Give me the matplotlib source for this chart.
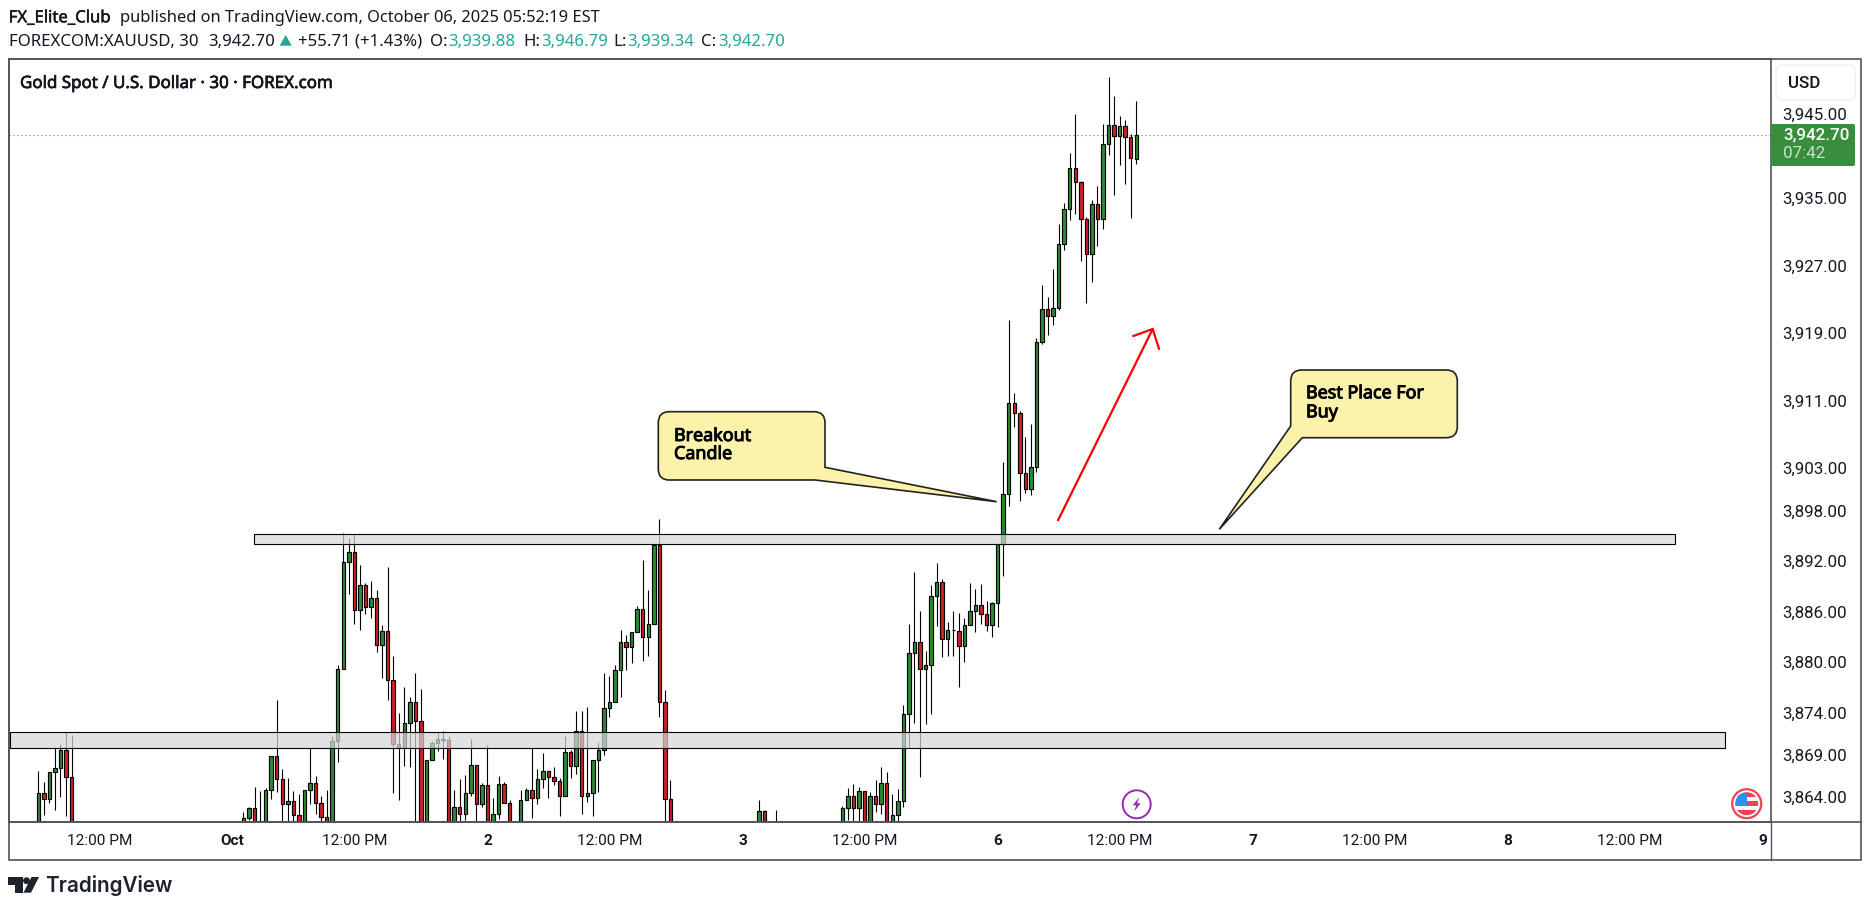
import numpy as np
import matplotlib
matplotlib.use('Agg')
import matplotlib.pyplot as plt
import matplotlib.patheffects as pe
from matplotlib.path import Path
from matplotlib.patches import PathPatch, Polygon, Circle, Rectangle, FancyBboxPatch
from matplotlib.transforms import ScaledTranslation

plt.rcParams['font.family'] = ['Roboto', 'DejaVu Sans']

nan = np.nan

# Candles, one entry per 30 min bar. 3860 = somewhere below the visible range
opens = [3860, 3864.71, 3864.00, 3867.20, 3867.67, 3869.81, 3866.61] + [nan] * 28 + [3860, nan,
         3860, 3861.75, 3862.93, 3860, 3860, 3865.07, 3869.09, 3866.37, 3863.41, 3863.76,
         3862.10, 3860, 3865.07, 3865.89, 3863.52, 3861.87, 3860, 3870.87, 3879.40, 3892.08,
         3893.27, 3886.40, 3889.36, 3886.75, 3887.82, 3882.25, 3883.91, 3878.10, 3870.52, 3870.16,
         3873.00, 3875.49, 3873.24, 3860, 3868.62, 3870.63, 3870.99, 3870.99, 3860, 3863.05,
         3862.22, 3864.71, 3868.03, 3863.41, 3865.66, 3860, 3862.22, 3865.78, 3863.52, 3860,
         3860, 3863.88, 3865.07, 3864.12, 3866.37, 3867.32, 3866.61, 3866.13, 3864.35, 3869.57,
         3867.91, 3872.06, 3864.35, 3864.71, 3868.62, 3869.81, 3874.78, 3875.49, 3879.29, 3882.60,
         3882.01, 3883.79, 3886.51, 3883.20, 3884.74, 3894.10, 3875.49, 3864.00] + [nan] * 15 + [
         3860, 3862.58, nan, 3860] + [nan] * 11 + [
         3860, 3862.93, 3864.35, 3862.93, 3864.95, 3860, 3864.35, 3863.41, 3865.89, 3860,
         3862.10, 3863.76, 3874.07, 3881.30, 3882.60, 3879.40, 3879.88, 3888.05, 3889.71, 3882.96,
         3884.03, 3883.91, 3882.13, 3884.62, 3886.28, 3886.99, 3885.92, 3884.62, 3887.22, 3894.22,
         3900.15, 3910.93, 3909.75, 3902.64, 3900.74, 3903.35, 3918.17, 3922.08, 3921.25, 3922.20,
         3929.79, 3933.93, 3938.79, 3937.13, 3932.75, 3928.60, 3934.53, 3932.75, 3941.64, 3943.89,
         3942.58, 3943.77, 3942.47, 3939.88]
closes = [3864.71, 3864.00, 3867.20, 3867.67, 3869.81, 3866.61, 3860] + [nan] * 28 + [3860, nan,
          3861.75, 3862.93, 3861.35, 3861.39, 3865.07, 3869.09, 3866.37, 3863.41, 3863.76, 3862.10,
          3860, 3865.07, 3865.89, 3863.52, 3861.87, 3860, 3870.87, 3879.40, 3892.08, 3893.27,
          3886.40, 3889.36, 3886.75, 3887.82, 3882.25, 3883.91, 3878.10, 3870.52, 3870.16, 3873.00,
          3875.49, 3873.24, 3860, 3868.62, 3870.63, 3871.11, 3871.11, 3860, 3863.05, 3862.22,
          3864.71, 3868.03, 3863.41, 3865.66, 3860, 3862.22, 3865.78, 3863.52, 3860, 3860,
          3863.88, 3865.07, 3864.12, 3866.37, 3867.32, 3866.61, 3866.13, 3864.35, 3869.57, 3867.91,
          3872.06, 3864.35, 3864.71, 3868.62, 3869.81, 3874.78, 3875.49, 3879.29, 3882.60, 3882.01,
          3883.79, 3886.51, 3883.20, 3884.74, 3894.10, 3875.49, 3864.00, 3860] + [nan] * 15 + [
          3862.58, 3860, nan, 3860] + [nan] * 11 + [
          3862.93, 3864.35, 3862.93, 3864.95, 3860, 3864.35, 3863.41, 3865.89, 3860, 3862.10,
          3863.76, 3874.07, 3881.30, 3882.60, 3879.40, 3879.88, 3888.05, 3889.71, 3882.96, 3884.03,
          3884.03, 3882.13, 3884.62, 3886.28, 3886.99, 3885.92, 3884.62, 3887.22, 3894.22, 3900.15,
          3910.93, 3909.75, 3902.64, 3900.74, 3903.35, 3918.17, 3922.08, 3921.25, 3922.20, 3929.79,
          3933.93, 3938.79, 3937.13, 3932.75, 3928.60, 3934.53, 3932.75, 3941.64, 3943.89, 3942.58,
          3943.77, 3942.47, 3939.98, 3942.70]
highs = [3867.36, 3866.01, 3867.20, 3870.16, 3870.56, 3871.94, 3871.58] + [nan] * 28 + [3861.39, nan,
         3862.50, 3863.09, 3865.46, 3864.99, 3865.30, 3869.09, 3875.77, 3867.55, 3866.49, 3864.95,
         3864.63, 3865.07, 3870.04, 3866.72, 3864.35, 3865.07, 3871.46, 3879.92, 3895.52, 3895.00,
         3895.40, 3891.73, 3889.67, 3889.87, 3888.77, 3884.62, 3891.49, 3880.94, 3874.19, 3877.27,
         3876.09, 3878.93, 3877.03, 3868.62, 3870.87, 3871.94, 3872.06, 3871.46, 3865.07, 3866.37,
         3866.84, 3871.11, 3868.03, 3865.89, 3870.40, 3864.12, 3866.72, 3866.00, 3863.88, 3861.39,
         3865.07, 3865.30, 3870.16, 3867.55, 3869.45, 3867.32, 3867.79, 3866.49, 3871.46, 3869.81,
         3874.43, 3874.43, 3874.90, 3868.62, 3870.75, 3878.93, 3878.57, 3879.88, 3884.03, 3883.43,
         3883.79, 3886.87, 3892.32, 3888.77, 3894.10, 3897.18, 3876.92, 3866.25] + [nan] * 15 + [
         3863.88, 3862.70, nan, 3862.70] + [nan] * 11 + [
         3863.17, 3865.30, 3865.78, 3865.42, 3864.95, 3864.83, 3866.25, 3867.79, 3867.20, 3864.59,
         3865.18, 3875.14, 3884.74, 3890.90, 3886.28, 3881.54, 3889.36, 3891.96, 3890.07, 3884.97,
         3886.28, 3886.04, 3885.45, 3889.59, 3888.88, 3889.48, 3887.46, 3887.34, 3894.22, 3903.94,
         3920.78, 3912.12, 3909.99, 3906.91, 3908.45, 3918.65, 3924.97, 3923.51, 3926.82, 3932.20,
         3934.64, 3940.57, 3945.19, 3937.25, 3932.99, 3935.00, 3936.66, 3944.01, 3949.58, 3947.32,
         3944.95, 3944.48, 3942.82, 3946.79]
lows = [3860, 3862.18, 3863.60, 3862.73, 3864.31, 3862.06, 3860] + [nan] * 28 + [3860, nan,
        3860, 3861.55, 3860, 3860, 3860, 3864.08, 3864.87, 3860, 3860, 3860,
        3860, 3860, 3863.49, 3862.30, 3860, 3860, 3860, 3868.46, 3879.40, 3888.33,
        3884.82, 3884.10, 3885.92, 3885.53, 3881.50, 3878.42, 3875.81, 3864.79, 3863.96, 3867.99,
        3867.87, 3860, 3860, 3860, 3868.62, 3869.73, 3868.82, 3860, 3860, 3860,
        3861.51, 3864.35, 3860, 3863.05, 3860, 3860, 3861.63, 3863.52, 3860, 3860,
        3860, 3863.88, 3861.79, 3863.41, 3865.30, 3864.20, 3865.66, 3862.06, 3864.35, 3866.49,
        3866.96, 3862.22, 3863.64, 3862.06, 3864.83, 3869.21, 3873.72, 3875.49, 3876.09, 3879.29,
        3880.11, 3883.79, 3880.43, 3881.02, 3884.74, 3873.79, 3860, 3860] + [nan] * 15 + [
        3860, 3860, nan, 3860] + [nan] * 11 + [
        3860, 3861.51, 3860, 3860, 3860, 3860, 3862.46, 3862.22, 3860, 3860,
        3860, 3863.13, 3870.24, 3873.08, 3866.61, 3872.97, 3874.15, 3884.50, 3880.90, 3881.02,
        3881.02, 3877.35, 3880.31, 3884.62, 3883.87, 3884.82, 3883.99, 3883.27, 3884.46, 3890.51,
        3898.81, 3908.17, 3899.40, 3900.35, 3900.11, 3902.84, 3917.94, 3919.04, 3920.23, 3921.97,
        3929.11, 3932.71, 3933.42, 3927.85, 3922.87, 3925.36, 3929.63, 3931.64, 3940.41, 3935.67,
        3939.23, 3936.98, 3932.95, 3939.34]

# drawn zones: left bar, right bar, top price, bottom price
zone_left = [38.95, -5.05]
zone_right = [295.2, 304.2]
zone_top = [3895.40, 3871.94]
zone_bottom = [3894.22, 3870.04]

last_price = 3942.70
price_ticks = [3945, 3935, 3927, 3919, 3911, 3903, 3898, 3892, 3886, 3880, 3874, 3869, 3864]
time_ticks = [11, 35, 57, 81, 103, 127, 149, 173, 195, 219, 241, 265, 287, 311]
time_labels = ['12:00 PM', 'Oct', '12:00 PM', '2', '12:00 PM', '3', '12:00 PM', '6',
               '12:00 PM', '7', '12:00 PM', '8', '12:00 PM', '9']

GREEN = '#2e8b35'
RED = '#d32020'
TEAL = '#26a69a'
INK = '#131722'
FRAME = '#50535e'
W, H = 1869, 910
L, R, T, B = 8.5, 1770.7, 59, 822.3

fig = plt.figure(figsize=(W / 100, H / 100), dpi=100, facecolor='white')
ax = fig.add_axes([L / W, (H - B) / H, (R - L) / W, (B - T) / H])
ax.set_xlim(-5.37, 312.41)
ax.set_ylim(3861.27, 3951.74)

o = np.array(opens, dtype=float)
h = np.array(highs, dtype=float)
l = np.array(lows, dtype=float)
c = np.array(closes, dtype=float)
x = np.arange(len(o))
keep = ~np.isnan(o)
colors = [GREEN if up else RED for up in (c[keep] >= o[keep])]

ax.axhline(last_price, color='#4f8f55', lw=0.8, ls=(0, (1, 2.6)), zorder=1)
ax.vlines(x[keep], l[keep], h[keep], color='black', lw=0.8, zorder=2)
ax.bar(x[keep], np.abs(c[keep] - o[keep]), bottom=np.minimum(o[keep], c[keep]), width=0.62,
       color=colors, edgecolor='black', linewidth=0.85, zorder=2.5)

for i in range(len(zone_left)):
    ax.add_patch(Rectangle((zone_left[i], zone_bottom[i]), zone_right[i] - zone_left[i],
                           zone_top[i] - zone_bottom[i], facecolor=(216 / 255, 216 / 255, 216 / 255, 0.72),
                           edgecolor='black', linewidth=0.8, zorder=3))

ax.yaxis.tick_right()
ax.set_yticks(price_ticks)
ax.set_yticklabels([f'{v:,.2f}' for v in price_ticks], fontsize=12.2, color=INK)
ax.set_xticks(time_ticks)
ax.set_xticklabels(time_labels, fontsize=11.1, color=INK)
for lab in ax.get_xticklabels():
    if 'PM' not in lab.get_text():
        lab.set_fontweight('bold')
ax.tick_params(axis='both', length=0)
ax.tick_params(axis='y', pad=8.4)
ax.tick_params(axis='x', pad=8.5)
# labels sit about 2 px above their price in the reference
up_shift = ScaledTranslation(0, 2 / 100, fig.dpi_scale_trans)
for lab in ax.get_yticklabels():
    lab.set_transform(lab.get_transform() + up_shift)
for s in ax.spines.values():
    s.set_color(FRAME)
    s.set_linewidth(1.2)

# overlay in image pixels for chrome, callouts and icons
ov = fig.add_axes([0, 0, 1, 1], facecolor='none')
ov.set_xlim(0, W)
ov.set_ylim(H, 0)
ov.axis('off')

HEAD = ['Noto Sans', 'DejaVu Sans']


def heavier(width):
    # Noto Sans only comes in one weight here, so thicken it with a thin stroke
    return [pe.withStroke(linewidth=width, foreground='black')]


def rounded_poly(points, radii):
    verts, codes = [], []
    n = len(points)
    for i in range(n):
        p = np.array(points[i], float)
        a = np.array(points[i - 1], float)
        b = np.array(points[(i + 1) % n], float)
        r = radii[i]
        if r == 0:
            verts.append(p)
            codes.append(Path.LINETO)
        else:
            p1 = p + (a - p) / np.linalg.norm(a - p) * r
            p2 = p + (b - p) / np.linalg.norm(b - p) * r
            verts += [p1, p, p2]
            codes += [Path.LINETO, Path.CURVE3, Path.CURVE3]
    codes[0] = Path.MOVETO
    verts.append(verts[0])
    codes.append(Path.CLOSEPOLY)
    return Path(verts, codes)


def callout(points, radii, lines):
    ov.add_patch(PathPatch(rounded_poly(points, radii), facecolor='#fdf2a9', edgecolor='#222222', lw=1.2))
    for tx, ty, s in lines:
        ov.text(tx, ty, s, fontsize=12.9, family=HEAD, color='black', va='center', path_effects=heavier(0.7))


callout([(658.3, 411.7), (825, 411.7), (825, 467.3), (996.7, 501.7), (815, 480), (658.3, 480)],
        [11, 11, 0, 0, 0, 11],
        [(674, 436, 'Breakout'), (674, 454, 'Candle')])
callout([(1290.7, 370), (1457.3, 370), (1457.3, 437.7), (1302.3, 437.7), (1219.3, 529.3), (1290.7, 426)],
        [11, 11, 11, 0, 0, 0],
        [(1306, 393.3, 'Best Place For'), (1306, 412.3, 'Buy')])

# red arrow
ov.plot([1057.7, 1152.7], [521, 329], color='#ff0000', lw=1.6, solid_capstyle='butt')
ov.plot([1133.3, 1152.7, 1159], [336, 329, 348.7], color='#ff0000', lw=1.6, solid_joinstyle='miter')

# outer frame of the price and time panels
ov.add_patch(Rectangle((L, T), 1860.7 - L, 860 - T, fill=False, edgecolor=FRAME, lw=1.2))
ov.plot([R, R], [B, 860], color=FRAME, lw=1.0)
ov.plot([L, 1860.7], [B, B], color=FRAME, lw=1.2)

# USD button and last price tag
ov.add_patch(FancyBboxPatch((1781, 70), 69, 25, boxstyle='round,pad=5,rounding_size=6',
                            facecolor='white', edgecolor='#eef0f5', lw=1))
ov.text(1788, 83, 'USD', fontsize=12.2, color=INK, va='center', fontweight='medium')
ov.add_patch(PathPatch(rounded_poly([(1771, 124), (1855, 124), (1855, 166), (1771, 166)], [0, 2, 2, 0]),
                       facecolor='#388e3c', edgecolor='none'))
ov.text(1783, 135, f'{last_price:,.2f}', fontsize=12.2, color='white', va='center', fontweight='medium')
ov.text(1783, 154, '07:42', fontsize=12.2, color='#c8e0c9', va='center')

# header lines
ov.text(8.7, 18.3, 'FX_Elite_Club', fontsize=12, family=HEAD, color=INK, va='center', path_effects=heavier(0.3))
ov.text(120, 18.3, 'published on TradingView.com, October 06, 2025 05:52:19 EST', fontsize=11.85,
        family=HEAD, color=INK, va='center')
for tx, s, col in [(8.7, 'FOREXCOM:XAUUSD, 30', INK), (208, '3,942.70', INK), (298, '+55.71 (+1.43%)', INK),
                   (430, 'O:', INK), (448, '3,939.88', TEAL), (523, 'H:', INK), (541, '3,946.79', TEAL),
                   (613, 'L:', INK), (627.5, '3,939.34', TEAL), (701.5, 'C:', INK), (718, '3,942.70', TEAL)]:
    ov.text(tx, 41.7, s, fontsize=12.1, family=HEAD, color=col, va='center')
ov.add_patch(Polygon([(279.6, 45.7), (285.7, 35), (291.8, 45.7)], facecolor=TEAL, edgecolor='none'))
ov.text(20, 84, 'Gold Spot / U.S. Dollar · 30 · FOREX.com', fontsize=12.2, family=HEAD, color=INK, va='center',
        path_effects=heavier(0.45))

# purple event icon
ov.add_patch(Circle((1136.7, 804.3), 14, facecolor='white', edgecolor='#9c27b0', lw=1.4))
ov.add_patch(Polygon([(1139.2, 797.3), (1132.7, 805.3), (1136.2, 805.3), (1134.2, 811.3),
                      (1140.7, 803.3), (1137.2, 803.3)], facecolor='#9c27b0', edgecolor='none'))

# US flag icon
cx, cy = 1746.7, 803.7
clip = Circle((cx, cy), 11.5, transform=ov.transData)
ov.add_patch(Circle((cx, cy), 14.5, facecolor='white', edgecolor='#f0434f', lw=1.6))
flag_parts = [(cx - 12, cy - 12, 24, 5, '#f0434f'), (cx, cy - 5, 12, 4, 'white'), (cx, cy - 3, 12, 5, '#f0434f'),
              (cx - 12, cy + 3, 24, 3, 'white'), (cx - 12, cy + 6, 24, 6, '#f0434f'),
              (cx - 12, cy - 10, 12, 12, '#2f8ef0')]
for px, py, pw, ph, col in flag_parts:
    p = Rectangle((px, py), pw, ph, facecolor=col, edgecolor='none')
    ov.add_patch(p)
    p.set_clip_path(clip)

# TradingView logo
LOGO = '#1e222d'
ov.add_patch(Polygon([(8.3, 877), (22.7, 877), (22.7, 892.7), (15, 892.7), (15, 884.5), (8.3, 884.5)],
                     facecolor=LOGO, edgecolor='none'))
ov.add_patch(Circle((26.5, 880.7), 3.4, facecolor=LOGO, edgecolor='none'))
ov.add_patch(Polygon([(31.5, 877), (39, 877), (31, 892.7), (23.5, 892.7)], facecolor=LOGO, edgecolor='none'))
ov.text(45, 885.5, 'TradingView', fontsize=14.9, family=['Inter', 'DejaVu Sans'], fontweight='semibold',
        color=LOGO, va='center')

fig.savefig('out.png', dpi=100, facecolor='white')
